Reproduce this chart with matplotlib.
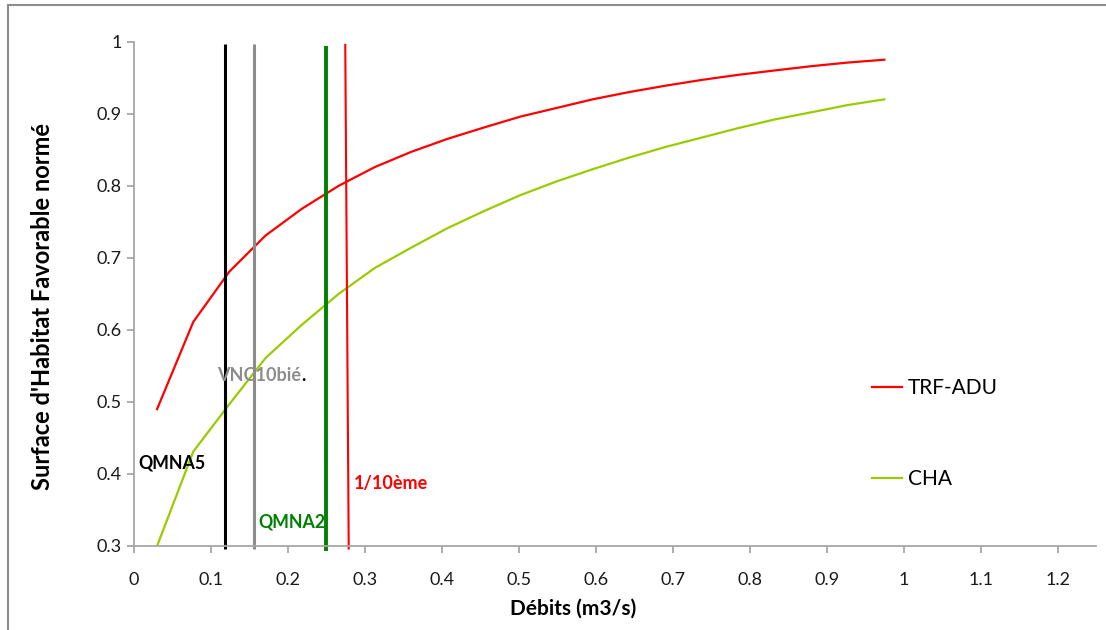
import matplotlib
matplotlib.use("Agg")
import matplotlib.pyplot as plt
from matplotlib.patches import Rectangle

plt.rcParams["font.family"] = ["Lato", "DejaVu Sans"]

# debits (m3/s) and normalised favourable habitat surface
debits = [0.030, 0.077, 0.124, 0.171, 0.218, 0.266, 0.313, 0.360, 0.407, 0.455, 0.502,
          0.549, 0.596, 0.643, 0.691, 0.738, 0.785, 0.832, 0.880, 0.927, 0.975]
trf_adu = [0.490, 0.611, 0.681, 0.731, 0.768, 0.800, 0.826, 0.847, 0.865, 0.881, 0.896,
           0.908, 0.920, 0.930, 0.939, 0.947, 0.954, 0.960, 0.966, 0.971, 0.975]
cha = [0.300, 0.431, 0.497, 0.561, 0.607, 0.650, 0.686, 0.714, 0.741, 0.765, 0.787,
       0.806, 0.823, 0.839, 0.854, 0.867, 0.880, 0.892, 0.902, 0.912, 0.920]

# reference flows: name, x at top, x at bottom, colour
ref_names = ["QMNA5", "VNC10bié", "QMNA2", "1/10ème"]
ref_x_top = [0.118, 0.156, 0.249, 0.2745]
ref_x_bot = [0.118, 0.156, 0.249, 0.279]
ref_y_top = [0.997, 0.997, 0.994, 0.997]
ref_y_bot = [0.296, 0.296, 0.293, 0.295]
ref_colors = ["black", "#8c8c8c", "#008000", "#ff0000"]
ref_widths = [2.2, 2.2, 2.8, 1.5]

fig = plt.figure(figsize=(11.06, 6.3), dpi=100)
ax = fig.add_axes([134 / 1106, 1 - 546 / 630, (1096 - 134) / 1106, (546 - 41.7) / 630])

ax.plot(debits, trf_adu, color="#ff0000", lw=1.6, label="TRF-ADU")
ax.plot(debits, cha, color="#99cc00", lw=1.6, label="CHA")

for i in range(len(ref_names)):
    ax.plot([ref_x_top[i], ref_x_bot[i]], [ref_y_top[i], ref_y_bot[i]],
            color=ref_colors[i], lw=ref_widths[i], clip_on=False,
            solid_capstyle="butt")

ax.text(0.006, 0.415, "QMNA5", color="black", fontsize=12.8, fontweight="bold", va="center")
t = ax.text(0.108, 0.536, "VNC10bié", color="#8c8c8c", fontsize=13, fontweight="bold", va="center")
ax.annotate(".", xycoords=t, xy=(1, 0), va="bottom", color="black", fontsize=13, fontweight="bold")
ax.text(0.162, 0.333, "QMNA2", color="#008000", fontsize=12.8, fontweight="bold", va="center")
ax.text(0.2855, 0.387, "1/10ème", color="#ff0000", fontsize=13, fontweight="bold", va="center")

ax.set_xlim(0, 1.25)
ax.set_ylim(0.3, 1.0)
ax.set_xticks([0, 0.1, 0.2, 0.3, 0.4, 0.5, 0.6, 0.7, 0.8, 0.9, 1, 1.1, 1.2])
ax.set_xticklabels(["0", "0.1", "0.2", "0.3", "0.4", "0.5", "0.6", "0.7", "0.8", "0.9", "1", "1.1", "1.2"])
ax.set_yticks([0.3, 0.4, 0.5, 0.6, 0.7, 0.8, 0.9, 1.0])
ax.set_yticklabels(["0.3", "0.4", "0.5", "0.6", "0.7", "0.8", "0.9", "1"])
for s in ["top", "right"]:
    ax.spines[s].set_visible(False)
for s in ["left", "bottom"]:
    ax.spines[s].set_color("#a6a6a6")
    ax.spines[s].set_linewidth(1.3)
ax.tick_params(axis="both", colors="#a6a6a6", labelcolor="#1a1a1a", labelsize=13,
               length=5, width=1.3, direction="out")
ax.tick_params(axis="x", pad=14)
ax.tick_params(axis="y", pad=4)

ax.legend(loc="upper left", bbox_to_anchor=(862 / 1106, 1 - 368 / 630),
          bbox_transform=fig.transFigure, frameon=False, fontsize=15,
          handlelength=1.4, handletextpad=0.3, labelspacing=3.4, borderpad=0)

fig.text(43 / 1106, 1 - 306 / 630, "Surface d'Habitat Favorable normé", rotation=90,
         ha="center", va="center", fontsize=17, fontweight="bold")
fig.text(573 / 1106, 1 - 609 / 630, "Débits (m3/s)", ha="center", va="center",
         fontsize=15, fontweight="bold")

fig.patches.append(Rectangle((8 / 1106, -0.1), 1.2, 1 - 5 / 630 + 0.1, transform=fig.transFigure,
                             fill=False, edgecolor="#8c8c8c", lw=1.5))

fig.savefig("out.png", dpi=100)
